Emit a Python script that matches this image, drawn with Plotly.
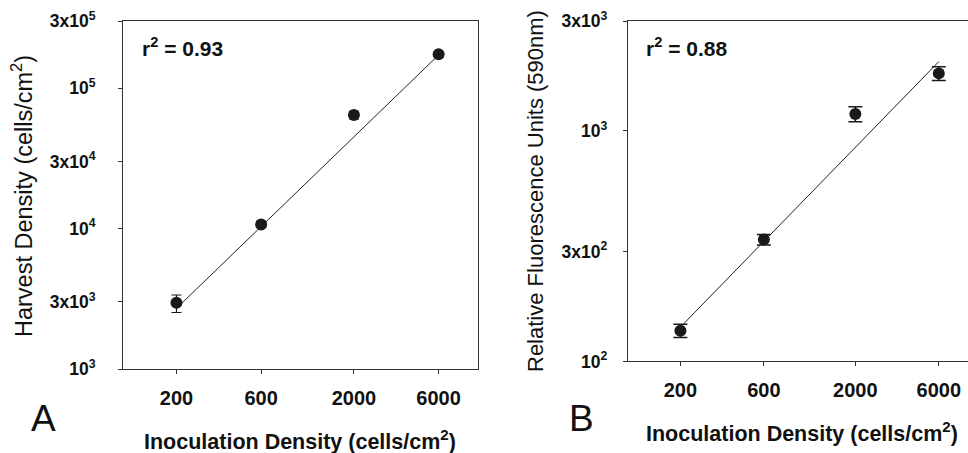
import plotly.graph_objects as go

# Panel A data
inoc = [200, 600, 2000, 6000]
harvest = [2965, 10700, 64200, 174000]
harvest_err_plus = [400, 400, 4000, 6000]
harvest_err_minus = [440, 400, 4000, 6000]
fitA_x = [200, 6000]
fitA_y = [2700, 172000]

# Panel B data
rfu = [136, 338, 1186, 1778]
rfu_err = [9, 18, 89, 120]
fitB_x = [200, 6000]
fitB_y = [141, 2000]

xticks = [200, 600, 2000, 6000]
xtick_text = ["200", "600", "2000", "6000"]
yA_ticks = [1e3, 3e3, 1e4, 3e4, 1e5, 3e5]
yA_text = ["10<sup>3</sup>", "3x10<sup>3</sup>", "10<sup>4</sup>", "3x10<sup>4</sup>",
           "10<sup>5</sup>", "3x10<sup>5</sup>"]
yB_ticks = [1e2, 3e2, 1e3, 3e3]
yB_text = ["10<sup>2</sup>", "3x10<sup>2</sup>", "10<sup>3</sup>", "3x10<sup>3</sup>"]

FONT = "Liberation Sans, Arial, sans-serif"
fig = go.Figure()

fig.add_trace(go.Scatter(x=fitA_x, y=fitA_y, mode="lines",
                         line=dict(color="#222", width=1), xaxis="x", yaxis="y",
                         showlegend=False, hoverinfo="skip"))
fig.add_trace(go.Scatter(x=inoc, y=harvest, mode="markers",
                         marker=dict(color="#1a1a1a", size=12),
                         error_y=dict(type="data", array=harvest_err_plus,
                                      arrayminus=harvest_err_minus, color="#1a1a1a",
                                      thickness=1.2, width=5),
                         xaxis="x", yaxis="y", showlegend=False))
fig.add_trace(go.Scatter(x=fitB_x, y=fitB_y, mode="lines",
                         line=dict(color="#222", width=1), xaxis="x2", yaxis="y2",
                         showlegend=False, hoverinfo="skip"))
fig.add_trace(go.Scatter(x=inoc, y=rfu, mode="markers",
                         marker=dict(color="#1a1a1a", size=12),
                         error_y=dict(type="data", array=rfu_err, color="#1a1a1a",
                                      thickness=1.5, width=7),
                         xaxis="x2", yaxis="y2", showlegend=False))

xtickfont = dict(family=FONT, size=20, color="#111", weight="bold")
ytickfont = dict(family=FONT, size=17.5, color="#111", weight="bold")
axis_common = dict(type="log", showgrid=False, zeroline=False, showline=True,
                   linecolor="#333", linewidth=1, ticks="outside", ticklen=4,
                   tickcolor="#333", automargin=False)

fig.update_layout(
    width=968, height=453,
    margin=dict(l=0, r=0, t=0, b=0),
    paper_bgcolor="white", plot_bgcolor="white",
    font=dict(family=FONT, color="#111"),
    xaxis=dict(axis_common, domain=[0.1271, 0.4938], range=[2, 4], anchor="y",
               mirror=True, tickvals=xticks, ticktext=xtick_text, tickfont=xtickfont,
               ticklabelstandoff=7),
    yaxis=dict(axis_common, domain=[0.1854, 0.9536], range=[3, 5.4771], anchor="x",
               mirror=True, tickvals=yA_ticks, ticktext=yA_text, tickfont=ytickfont,
               ticklabelstandoff=19),
    xaxis2=dict(axis_common, domain=[0.6485, 1.0], range=[2, 3.945], anchor="y2",
                mirror=True, tickvals=xticks, ticktext=xtick_text, tickfont=xtickfont,
                ticklabelstandoff=7),
    yaxis2=dict(axis_common, domain=[0.2020, 0.9536], range=[2, 3.4771], anchor="x2",
                mirror=False, tickvals=yB_ticks, ticktext=yB_text, tickfont=ytickfont,
                ticklabelstandoff=12),
)

bold = dict(family=FONT, size=21, color="#111")
ann = [
    dict(text="<b>r<sup>2</sup> = 0.93</b>", x=140, y=47, font=bold, xanchor="left"),
    dict(text="<b>r<sup>2</sup> = 0.88</b>", x=644, y=47, font=bold, xanchor="left"),
    dict(text="<b>Inoculation Density (cells/cm<sup>2</sup>)</b>", x=300, y=440,
         font=dict(family=FONT, size=21.5, color="#111")),
    dict(text="<b>Inoculation Density (cells/cm<sup>2</sup>)</b>", x=802, y=432,
         font=dict(family=FONT, size=21.5, color="#111")),
    dict(text="Harvest Density (cells/cm<sup>2</sup>)", x=22, y=196, textangle=-90,
         font=dict(family=FONT, size=23.5, color="#111")),
    dict(text="Relative Fluorescence Units (590nm)", x=536, y=191, textangle=-90,
         font=dict(family=FONT, size=22, color="#111")),
    dict(text="A", x=43, y=418, font=dict(family=FONT, size=37, color="#111")),
    dict(text="B", x=581, y=418, font=dict(family=FONT, size=37, color="#111")),
]
for a in ann:
    a.update(xref="paper", yref="paper", showarrow=False)
    a["x"] = a["x"] / 968
    a["y"] = 1 - a["y"] / 453
    a.setdefault("xanchor", "center")
    a["yanchor"] = "middle"
fig.update_layout(annotations=ann)

fig.write_html("out.html", config={"displayModeBar": False},
               post_script="document.body.style.margin='0';document.body.style.overflow='hidden';")
